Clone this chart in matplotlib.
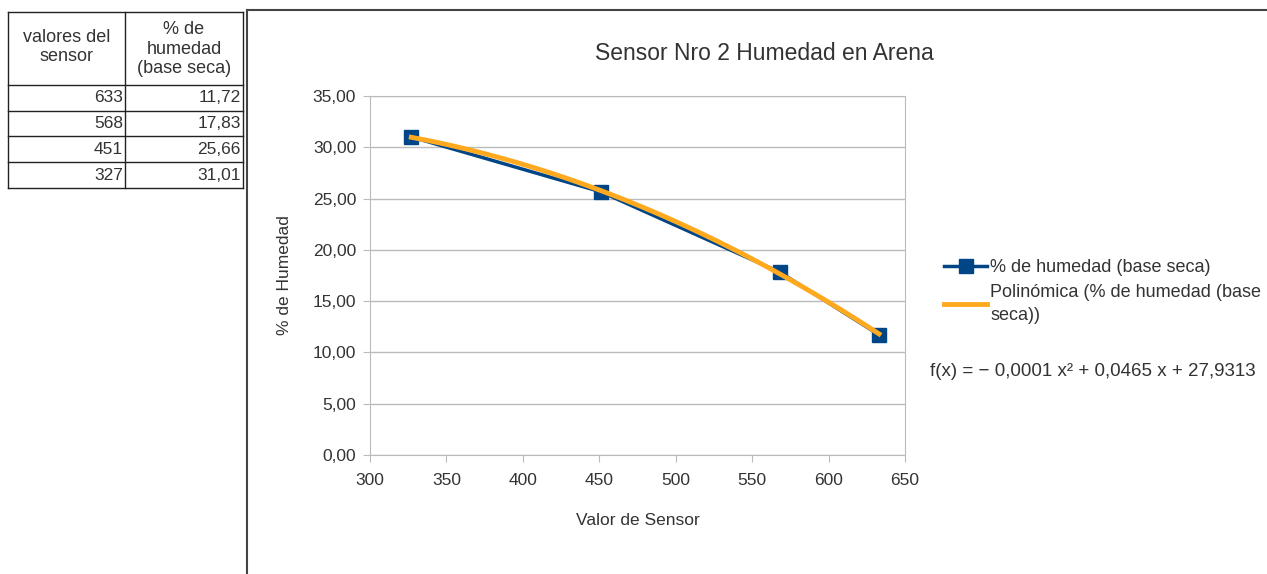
import numpy as np
import matplotlib.pyplot as plt
from matplotlib.lines import Line2D

plt.rcParams['font.family'] = ['Liberation Sans', 'DejaVu Sans']

# datos de la tabla
sensor = [633, 568, 451, 327]
humedad = [11.72, 17.83, 25.66, 31.01]
col_headers = ['valores del\nsensor', '% de\nhumedad\n(base seca)']
x_ticks = [300, 350, 400, 450, 500, 550, 600, 650]
y_ticks = [0, 5, 10, 15, 20, 25, 30, 35]

W, H = 1267, 574
fig = plt.figure(figsize=(W / 100, H / 100), dpi=100)
txt = '#333333'


def fx(px):
    return px / W


def fy(py):
    return 1 - py / H


# tabla a la izquierda
tl, tm, tr = 8, 125, 243
rows_y = [12, 85, 111, 136, 162, 188]
for y in rows_y:
    fig.add_artist(Line2D([fx(tl), fx(tr)], [fy(y), fy(y)], color='#222222', lw=1))
for x in [tl, tm, tr]:
    fig.add_artist(Line2D([fx(x), fx(x)], [fy(rows_y[0]), fy(rows_y[-1])], color='#222222', lw=1))
fig.text(fx((tl + tm) / 2), fy(47), col_headers[0], ha='center', va='center',
         fontsize=13, color=txt, linespacing=1.2)
fig.text(fx((tm + tr) / 2), fy(49), col_headers[1], ha='center', va='center',
         fontsize=13, color=txt, linespacing=1.2)
for i in range(len(sensor)):
    yc = (rows_y[i + 1] + rows_y[i + 2]) / 2
    fig.text(fx(tm - 2), fy(yc), str(sensor[i]), ha='right', va='center', fontsize=12.5, color=txt)
    fig.text(fx(tr - 2), fy(yc), f'{humedad[i]:.2f}'.replace('.', ','), ha='right',
             va='center', fontsize=12.5, color=txt)

# marco del grafico
fig.add_artist(Line2D([fx(247), fx(247)], [fy(10), 0], color='#444444', lw=1.5))
fig.add_artist(Line2D([fx(247), 1], [fy(10), fy(10)], color='#444444', lw=1.5))

ax = fig.add_axes([fx(370), fy(455), fx(905) - fx(370), fy(96) - fy(455)])
ax.set_xlim(300, 650)
ax.set_ylim(0, 35)
ax.set_xticks(x_ticks)
ax.set_yticks(y_ticks)
ax.set_yticklabels([f'{v:.2f}'.replace('.', ',') for v in y_ticks])
ax.grid(axis='y', color='#bbbbbb', lw=1)
ax.set_axisbelow(True)
for s in ax.spines.values():
    s.set_color('#bbbbbb')
ax.tick_params(colors='#bbbbbb', labelcolor=txt, labelsize=12.5, length=5)
ax.tick_params(axis='x', pad=8)
ax.tick_params(axis='y', pad=5)

ax.plot(sensor, humedad, color='#004586', lw=2.5, marker='s', markersize=10,
        label='% de humedad (base seca)', zorder=3)

coef = np.polyfit(sensor, humedad, 2)
xs = np.linspace(min(sensor), max(sensor), 100)
ax.plot(xs, np.polyval(coef, xs), color='#ffa91f', lw=3.5,
        label='Polinómica (% de humedad (base\nseca))', zorder=4)

ax.set_xlabel('Valor de Sensor', fontsize=12.5, color=txt, labelpad=18)
ax.set_ylabel('% de Humedad', fontsize=12.5, color=txt, labelpad=15)
fig.text(fx(764), fy(53), 'Sensor Nro 2 Humedad en Arena', ha='center', va='center',
         fontsize=16.5, color=txt)

leg = ax.legend(loc='upper left', bbox_to_anchor=(fx(944), fy(259)),
                bbox_transform=fig.transFigure, frameon=False, fontsize=13,
                handlelength=2.4, handletextpad=0.15, labelcolor=txt,
                borderaxespad=0, borderpad=0, labelspacing=0.45)
for t in leg.get_texts():
    t.set_linespacing(1.45)
fig.text(fx(930), fy(371), 'f(x) = − 0,0001 x² + 0,0465 x + 27,9313', ha='left',
         va='center', fontsize=13.5, color=txt)

fig.savefig('out.png', dpi=100)
